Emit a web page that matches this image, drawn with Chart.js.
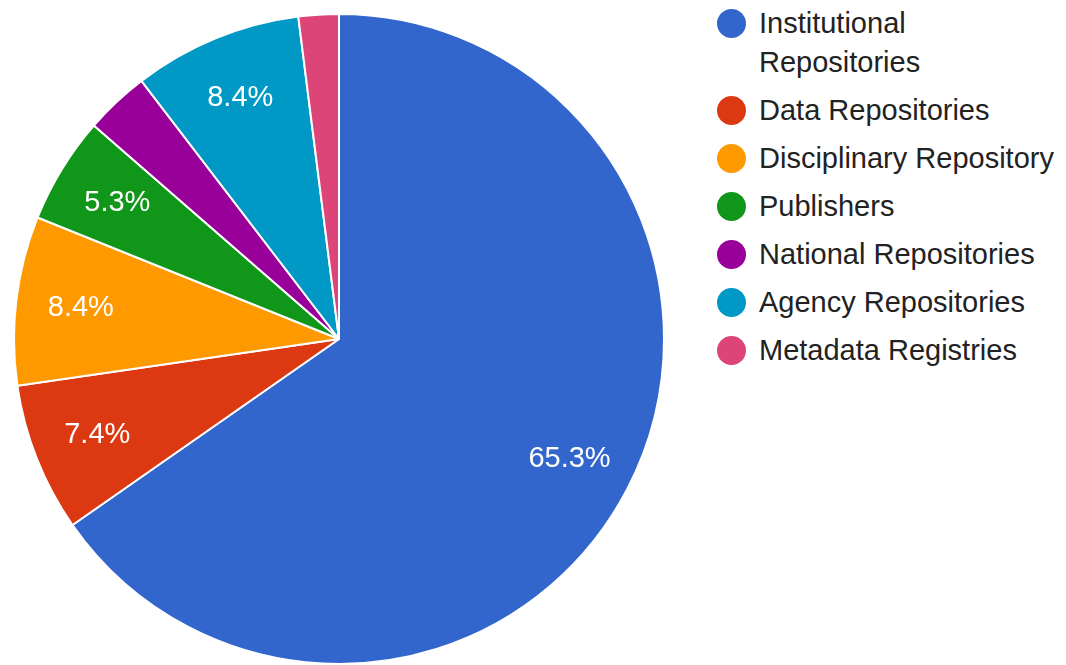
<!DOCTYPE html>
<html lang="en">
<head>
    <meta charset="UTF-8">
    <title>Repository types</title>
    <script src="https://cdn.jsdelivr.net/npm/chart.js"></script>
    <style>
        body { margin: 0; background: #fff; font-family: "Liberation Sans", Arial, sans-serif; }
        #wrap { position: relative; width: 1066px; height: 665px; overflow: hidden; }
        #pieBox { position: absolute; left: 14px; top: 14px; width: 650px; height: 650px; }
        #legend { position: absolute; left: 717px; top: 3.5px; display: flex; flex-direction: column; gap: 9px; }
        .item { position: relative; padding-left: 42px; width: 306px; font-size: 29px; line-height: 39px; color: #222; }
        .dot { position: absolute; left: 0; top: 5px; width: 29px; height: 29px; border-radius: 50%; }
    </style>
</head>
<body>
<div id="wrap">
    <div id="pieBox"><canvas id="myChart"></canvas></div>
    <div id="legend"></div>
</div>

<script>
    const categories = ['Institutional Repositories', 'Data Repositories', 'Disciplinary Repository',
        'Publishers', 'National Repositories', 'Agency Repositories', 'Metadata Registries'];
    const shares = [65.3, 7.4, 8.4, 5.3, 3.2, 8.4, 2.0];
    const colors = ['#3366cc', '#dc3912', '#ff9900', '#109618', '#990099', '#0099c6', '#dd4477'];

    // legend on the right
    const legend = document.getElementById('legend');
    categories.forEach((name, i) => {
        const row = document.createElement('div');
        row.className = 'item';
        row.innerHTML = '<span class="dot" style="background:' + colors[i] + '"></span>' + name;
        legend.appendChild(row);
    });

    const total = shares.reduce((a, b) => a + b, 0);

    // percentage text inside the bigger slices
    const sliceLabels = {
        id: 'sliceLabels',
        afterDatasetsDraw(chart) {
            const ctx = chart.ctx;
            const meta = chart.getDatasetMeta(0);
            ctx.save();
            ctx.fillStyle = '#fff';
            ctx.font = '29px "Liberation Sans", Arial, sans-serif';
            ctx.textAlign = 'center';
            ctx.textBaseline = 'middle';
            meta.data.forEach((arc, i) => {
                const pct = shares[i] / total * 100;
                if (pct < 5) return;
                const p = arc.getProps(['x', 'y', 'startAngle', 'endAngle', 'outerRadius'], true);
                const mid = (p.startAngle + p.endAngle) / 2;
                const r = p.outerRadius * 0.8;
                ctx.fillText(pct.toFixed(1) + '%', p.x + Math.cos(mid) * r, p.y + Math.sin(mid) * r);
            });
            ctx.restore();
        }
    };

    new Chart(document.getElementById('myChart'), {
        type: 'pie',
        data: {
            labels: categories,
            datasets: [{
                data: shares,
                backgroundColor: colors,
                borderColor: '#fff',
                borderWidth: 2
            }]
        },
        options: {
            responsive: true,
            maintainAspectRatio: false,
            animation: false,
            radius: 325,
            layout: { padding: 0 },
            plugins: {
                legend: { display: false },
                tooltip: { enabled: false }
            }
        },
        plugins: [sliceLabels]
    });
</script>
</body>
</html>
